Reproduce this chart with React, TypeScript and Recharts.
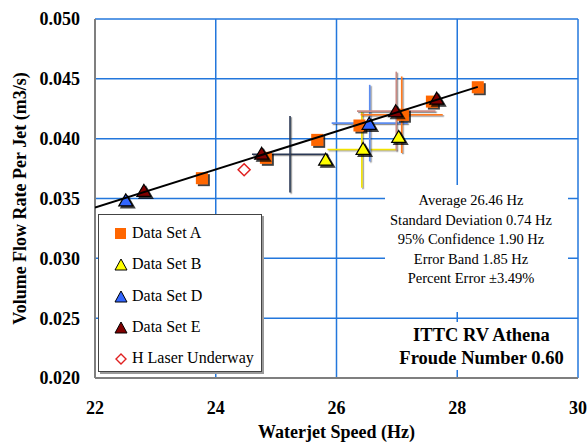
import { ScatterChart, Scatter, XAxis, YAxis, CartesianGrid, ErrorBar } from 'recharts';

const FONT = "'Liberation Serif', 'Times New Roman', serif";

// axis ticks
const speedTicks = [22, 24, 26, 28, 30];
const flowTicks = [0.02, 0.025, 0.03, 0.035, 0.04, 0.045, 0.05];

// Data Set A (squares)
const setASpeed = [23.77, 24.83, 25.68, 26.38, 27.1, 27.58, 28.34];
const setAFlow = [0.0367, 0.0384, 0.0399, 0.0411, 0.042, 0.0431, 0.0443];

// Data Set B
const setBSpeed = [25.82, 26.44, 27.03];
const setBFlow = [0.0382, 0.0391, 0.0401];

// Data Set D
const setDSpeed = [22.51, 26.54];
const setDFlow = [0.0348, 0.0412];

// Data Set E
const setESpeed = [22.81, 24.76, 26.98, 27.66];
const setEFlow = [0.0356, 0.0387, 0.04225, 0.0433];

// H Laser Underway
const laserSpeed = [24.47];
const laserFlow = [0.0374];

// error crosses: centre, half-width in Hz, half-height in m3/s
const bandSpeed = [25.23, 26.42, 26.55, 26.99, 27.08];
const bandFlow = [0.0387, 0.0391, 0.0413, 0.0423, 0.042];
const bandSpeedErr = [0.63, 0.57, 0.63, 0.65, 0.68];
const bandFlowErr = [0.0032, 0.0032, 0.0032, 0.0033, 0.0032];
const bandColors = ['#2b3954', '#f2e200', '#5b8cf0', '#c98a84', '#ff7a1f'];

// least-squares fit end points
const fitSpeed = [22, 28.34];
const fitFlow = [0.03425, 0.04433];

const statsLines = [
  'Average 26.46 Hz',
  'Standard Deviation 0.74 Hz',
  '95% Confidence 1.90 Hz',
  'Error Band 1.85 Hz',
  'Percent Error \u00b13.49%',
];

const zip = (xs: number[], ys: number[]) => xs.map((x, i) => ({ x, y: ys[i] }));

const Square = (props: any) => {
  const { cx, cy } = props;
  return <rect x={cx - 6} y={cy - 6} width={12} height={12} fill="#ff6600" filter="url(#markShadow)" />;
};

const makeTriangle = (fill: string) => (props: any) => {
  const { cx, cy } = props;
  return (
    <polygon
      points={`${cx},${cy - 7} ${cx - 7},${cy + 5} ${cx + 7},${cy + 5}`}
      fill={fill}
      stroke="#000"
      strokeWidth={1.2}
      filter="url(#markShadow)"
    />
  );
};

const Diamond = (props: any) => {
  const { cx, cy } = props;
  return (
    <path
      d={`M${cx},${cy - 6} L${cx + 6},${cy} L${cx},${cy + 6} L${cx - 6},${cy} Z`}
      fill="#fff"
      stroke="#e02020"
      strokeWidth={1.5}
    />
  );
};

const Nothing = () => <g />;

const legendItems = [
  { name: 'Data Set A', kind: 'square', color: '#ff6600' },
  { name: 'Data Set B', kind: 'triangle', color: '#ffff00' },
  { name: 'Data Set D', kind: 'triangle', color: '#3366ff' },
  { name: 'Data Set E', kind: 'triangle', color: '#800000' },
  { name: 'H Laser Underway', kind: 'diamond', color: '#e02020' },
];

function LegendIcon({ kind, color }: { kind: string; color: string }) {
  return (
    <svg width={16} height={16} style={{ position: 'absolute', left: 14, top: 8 }}>
      {kind === 'square' && <rect x={2} y={2} width={11} height={11} fill={color} />}
      {kind === 'triangle' && (
        <polygon points="8,2 2,13 14,13" fill={color} stroke="#000" strokeWidth={1} />
      )}
      {kind === 'diamond' && (
        <path d="M8,3 L13,8 L8,13 L3,8 Z" fill="#fff" stroke={color} strokeWidth={1.4} />
      )}
    </svg>
  );
}

export default function App() {
  const tickStyle = { fontFamily: FONT, fontSize: 18, fontWeight: 'bold', fill: '#000' };
  const bands = bandSpeed.map((x, i) => ({ x, y: bandFlow[i], ex: bandSpeedErr[i], ey: bandFlowErr[i] }));

  return (
    <div style={{ position: 'absolute', left: 0, top: 0, width: 588, height: 443, background: '#fff', fontFamily: FONT }}>
      <svg width={0} height={0} style={{ position: 'absolute' }}>
        <defs>
          <filter id="markShadow" x="-50%" y="-50%" width="200%" height="200%">
            <feDropShadow dx={2} dy={2} stdDeviation={0.6} floodColor="#000" floodOpacity={0.75} />
          </filter>
          {/* user-space region so zero-width vertical lines still render */}
          <filter id="lineShadow" filterUnits="userSpaceOnUse" x={0} y={0} width={588} height={443}>
            <feDropShadow dx={1.2} dy={1.2} stdDeviation={0.2} floodColor="#333" floodOpacity={0.55} />
          </filter>
        </defs>
      </svg>

      <ScatterChart width={588} height={443} margin={{ top: 19, right: 10, left: 0, bottom: 0 }}>
        <CartesianGrid stroke="#2377dc" strokeWidth={1.5} />
        <XAxis
          type="number"
          dataKey="x"
          domain={[22, 30]}
          ticks={speedTicks}
          allowDataOverflow
          height={65}
          tickSize={0}
          tickMargin={23}
          tickLine={false}
          axisLine={{ stroke: '#7f7f7f', strokeWidth: 2 }}
          tick={tickStyle}
          label={{
            value: 'Waterjet Speed (Hz)',
            position: 'insideBottom',
            offset: 5,
            style: { fontFamily: FONT, fontSize: 18, fontWeight: 'bold', fill: '#000' },
          }}
        />
        <YAxis
          type="number"
          dataKey="y"
          domain={[0.02, 0.05]}
          ticks={flowTicks}
          allowDataOverflow
          width={95}
          tickSize={0}
          tickMargin={15}
          tickLine={false}
          axisLine={{ stroke: '#7f7f7f', strokeWidth: 2 }}
          tick={tickStyle}
          tickFormatter={(v: number) => v.toFixed(3)}
          label={{
            value: 'Volume Flow Rate Per Jet (m3/s)',
            angle: -90,
            position: 'insideLeft',
            offset: 20,
            style: { fontFamily: FONT, fontSize: 18, fontWeight: 'bold', fill: '#000', textAnchor: 'middle' },
          }}
        />

        {bands.map((b, i) => (
          <Scatter key={`band${i}`} data={[b]} shape={Nothing} isAnimationActive={false} legendType="none">
            <ErrorBar dataKey="ex" direction="x" width={0} stroke={bandColors[i]} strokeWidth={1.6} filter="url(#lineShadow)" isAnimationActive={false} />
            <ErrorBar dataKey="ey" direction="y" width={0} stroke={bandColors[i]} strokeWidth={1.6} filter="url(#lineShadow)" isAnimationActive={false} />
          </Scatter>
        ))}

        <Scatter name="H Laser Underway" data={zip(laserSpeed, laserFlow)} shape={Diamond} isAnimationActive={false} />
        <Scatter name="Data Set A" data={zip(setASpeed, setAFlow)} shape={Square} isAnimationActive={false} />
        <Scatter name="Data Set B" data={zip(setBSpeed, setBFlow)} shape={makeTriangle('#ffff00')} isAnimationActive={false} />
        <Scatter name="Data Set D" data={zip(setDSpeed, setDFlow)} shape={makeTriangle('#3366ff')} isAnimationActive={false} />
        <Scatter name="Data Set E" data={zip(setESpeed, setEFlow)} shape={makeTriangle('#800000')} isAnimationActive={false} />

        <Scatter
          data={zip(fitSpeed, fitFlow)}
          line={{ stroke: '#000', strokeWidth: 2 }}
          shape={Nothing}
          isAnimationActive={false}
          legendType="none"
        />
      </ScatterChart>

      {/* legend */}
      <div
        style={{
          position: 'absolute',
          left: 98,
          top: 214,
          width: 164,
          height: 158,
          background: '#fff',
          border: '1px solid #444',
          boxShadow: '2px 2px 0 #9a9a9a',
          paddingTop: 3,
          boxSizing: 'border-box',
        }}
      >
        {legendItems.map((it) => (
          <div key={it.name} style={{ position: 'relative', height: 31.3 }}>
            <LegendIcon kind={it.kind} color={it.color} />
            <span style={{ position: 'absolute', left: 33, top: 6, fontSize: 16, lineHeight: '18px', whiteSpace: 'nowrap' }}>
              {it.name}
            </span>
          </div>
        ))}
      </div>

      {/* statistics */}
      <div style={{ position: 'absolute', left: 385, top: 185, width: 183, height: 127, background: '#fff' }} />
      <div
        style={{
          position: 'absolute',
          left: 371,
          top: 191,
          width: 200,
          textAlign: 'center',
          fontSize: 14.5,
          lineHeight: '19.5px',
          whiteSpace: 'nowrap',
        }}
      >
        {statsLines.map((l) => (
          <div key={l}>{l}</div>
        ))}
      </div>

      {/* title block */}
      <div
        style={{
          position: 'absolute',
          left: 386,
          top: 322,
          width: 191,
          height: 48,
          background: '#fff',
          textAlign: 'center',
          fontSize: 18.5,
          fontWeight: 'bold',
          lineHeight: '23px',
          paddingTop: 1.5,
          boxSizing: 'border-box',
          whiteSpace: 'nowrap',
        }}
      >
        <div>ITTC RV Athena</div>
        <div>Froude Number 0.60</div>
      </div>
    </div>
  );
}
